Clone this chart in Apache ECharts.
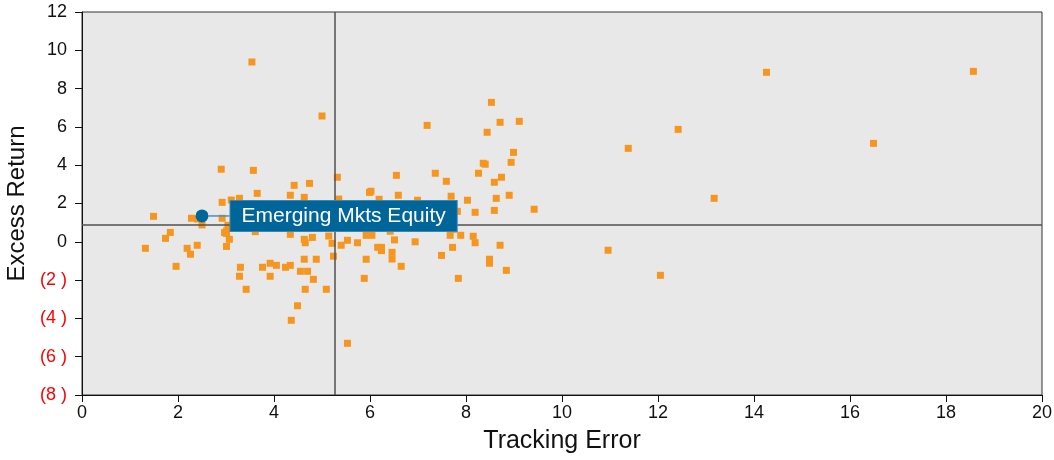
<!DOCTYPE html>
<html>
<head>
<meta charset="utf-8">
<script src="https://cdn.jsdelivr.net/npm/echarts@6/dist/echarts.min.js"></script>
<style>
html,body{margin:0;padding:0;background:#fff;}
#chart{width:1054px;height:460px;}
</style>
</head>
<body>
<div id="chart"></div>
<script>
// Tracking error (x) values of the peer universe
const trackingError = [
  2.90,3.57,4.42,4.74,5.32,3.65,4.34,4.63,5.35,2.92,
  3.11,3.28,1.49,2.28,2.50,2.92,3.04,1.84,1.74,1.32,
  2.19,2.40,2.26,1.96,2.97,3.01,3.07,3.01,3.61,4.34,
  4.63,4.65,4.80,5.14,5.21,5.40,5.24,4.63,4.88,3.30,
  3.28,3.76,3.92,4.05,4.24,4.34,3.92,3.42,4.55,4.70,
  4.82,4.65,5.09,4.49,4.36,5.53,5.88,7.84,8.84,8.49,
  8.49,6.65,6.46,6.46,5.92,6.16,6.24,6.24,7.49,7.72,
  8.19,8.71,6.94,6.51,5.74,5.53,8.53,7.19,8.71,9.11,
  8.44,8.99,8.94,8.36,8.40,8.26,8.74,8.59,6.55,7.36,
  7.59,6.02,5.99,6.59,6.99,6.19,7.69,8.03,8.90,8.63,
  9.42,8.59,8.19,7.82,6.42,5.92,7.67,8.15,6.04,7.74,
  7.89,3.54,5.00,14.26,18.57,12.42,11.38,16.49,13.17,10.96,
  12.05,2.40,3.01
];
// Excess return (y) values of the peer universe
const excessReturn = [
  3.79,3.73,2.95,3.05,3.37,2.53,2.43,2.32,2.23,2.06,
  2.18,2.27,1.33,1.23,0.88,1.23,0.86,0.49,0.18,-0.34,
  -0.34,-0.18,-0.65,-1.28,0.48,0.56,0.13,-0.24,0.53,0.39,
  0.13,-0.05,0.23,0.30,-0.08,-0.18,-0.75,-0.91,-0.91,-1.33,
  -1.80,-1.33,-1.12,-1.23,-1.33,-1.23,-1.80,-2.48,-1.54,-1.54,
  -1.96,-2.48,-2.48,-3.34,-4.10,-5.30,-1.91,-1.91,-1.49,-0.91,
  -1.12,-1.28,-0.55,-0.90,-0.91,-0.29,-0.29,-0.46,-0.71,-0.29,
  -0.05,-0.18,0.00,0.10,-0.05,0.08,7.28,6.08,6.24,6.29,
  5.72,4.67,4.15,4.10,4.05,3.58,3.37,3.11,3.47,3.58,
  3.16,2.64,2.58,2.43,2.17,2.22,2.38,2.17,2.43,2.27,
  1.70,1.64,1.54,1.59,0.55,0.34,0.34,0.29,0.34,0.65,
  0.34,9.39,6.57,8.85,8.90,5.87,4.88,5.14,2.27,-0.44,
  -1.75,1.19,0.44
];
// Highlighted fund
const highlightName = 'Emerging Mkts Equity';
const highlightX = [2.50];
const highlightY = [1.35];
// Reference (median) lines
const refTrackingError = 5.27;
const refExcessReturn = 0.9;
// Axis ranges / ticks
const xTicks = [0,2,4,6,8,10,12,14,16,18,20];
const yTicks = [-8,-6,-4,-2,0,2,4,6,8,10,12];

const peers = trackingError.map((x,i)=>[x, excessReturn[i]]);
const hi = highlightX.map((x,i)=>[x, highlightY[i]]);

const chart = echarts.init(document.getElementById('chart'), null, {renderer:'canvas'});
const font = 'Liberation Sans, Arial, Helvetica, sans-serif';
chart.setOption({
  animation:false,
  backgroundColor:'#ffffff',
  grid:{left:82, right:12, top:12, bottom:65, show:true, backgroundColor:'#e8e8e8', borderColor:'#333', borderWidth:1,
        containLabel:false, outerBoundsMode:'none'},
  xAxis:{
    type:'value', min:xTicks[0], max:xTicks[xTicks.length-1], interval:2,
    name:'Tracking Error', nameLocation:'middle', nameGap:34,
    nameTextStyle:{fontFamily:font, fontSize:25, color:'#111'},
    axisLine:{onZero:false, lineStyle:{color:'#111', width:1}},
    axisTick:{show:true, length:7, lineStyle:{color:'#111'}},
    axisLabel:{fontFamily:font, fontSize:18, color:'#111', margin:9},
    splitLine:{show:false}
  },
  yAxis:{
    type:'value', min:yTicks[0], max:yTicks[yTicks.length-1], interval:2,
    name:'Excess Return', nameLocation:'middle', nameGap:47,
    nameTextStyle:{fontFamily:font, fontSize:24, color:'#111'},
    axisLine:{onZero:false, lineStyle:{color:'#111', width:1}},
    axisTick:{show:true, length:7, lineStyle:{color:'#111'}},
    axisLabel:{
      fontFamily:font, fontSize:18, margin:15,
      formatter:(v)=> v<0 ? '(' + (-v) + ' )' : String(v),
      color:(v)=> Number(v)<0 ? '#ff0000' : '#111'
    },
    splitLine:{show:false}
  },
  series:[
    {
      type:'scatter', name:'Peers', data:peers,
      symbol:'rect', symbolSize:7,
      itemStyle:{color:'#f7961e', opacity:1},
      z:2,
      markLine:{
        silent:true, symbol:['none','none'],
        label:{show:false},
        lineStyle:{color:'#505050', width:1.5, type:'solid'},
        data:[{xAxis:refTrackingError},{yAxis:refExcessReturn}]
      }
    },
    {
      type:'scatter', name:highlightName, data:hi,
      symbol:'circle', symbolSize:13,
      itemStyle:{color:'#00679a', opacity:1},
      z:10,
      label:{
        show:true, position:'right', distance:5,
        formatter:highlightName,
        fontFamily:font, fontSize:21, color:'#ffffff',
        backgroundColor:'#00669a', borderColor:'#3a86b3', borderWidth:1,
        padding:[4,11], lineHeight:22
      },
      labelLayout:{dx:17},
      labelLine:{show:true, lineStyle:{color:'#4a8fbd', width:1.5}}
    }
  ]
});
</script>
</body>
</html>
